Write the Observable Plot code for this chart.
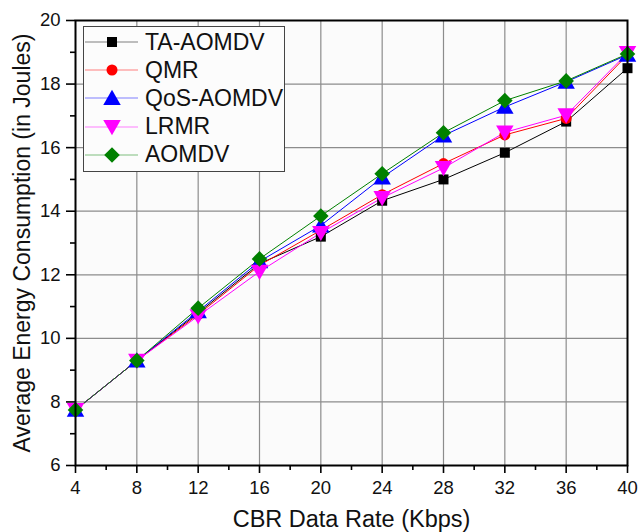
<!DOCTYPE html>
<html><head><meta charset="utf-8">
<script src="https://cdn.jsdelivr.net/npm/d3@7"></script>
<script src="https://cdn.jsdelivr.net/npm/@observablehq/plot@0.6"></script>
<style>
body{margin:0;background:#fff;font-family:"Liberation Sans",Arial,sans-serif;}
#wrap{position:relative;width:638px;height:532px;overflow:hidden;}
#legend{position:absolute;left:83px;top:26px;width:202px;height:146px;border:1px solid #444;background:#fcfcfc;box-sizing:border-box;padding-top:1px;}
.li{display:flex;align-items:center;height:28.2px;font-size:23px;color:#111;line-height:1;}
.li svg{margin-left:1px;margin-right:7px;flex:none}
</style></head><body>
<div id="wrap"><div id="chart"></div><div id="legend"></div></div>
<script>
const rates = [4, 8, 12, 16, 20, 24, 28, 32, 36, 40];
const seriesNames = ["TA-AOMDV", "QMR", "QoS-AOMDV", "LRMR", "AOMDV"];
const taAomdv = [7.75, 9.3, 10.8, 12.35, 13.2, 14.33, 15.0, 15.84, 16.82, 18.5];
const qmr     = [7.75, 9.3, 10.75, 12.3, 13.4, 14.52, 15.5, 16.4, 16.92, 18.92];
const qosAomdv= [7.75, 9.3, 10.85, 12.42, 13.55, 15.06, 16.38, 17.28, 18.07, 18.92];
const lrmr    = [7.75, 9.3, 10.7, 12.1, 13.32, 14.42, 15.36, 16.48, 17.02, 18.98];
const aomdv   = [7.75, 9.3, 10.95, 12.5, 13.85, 15.18, 16.47, 17.48, 18.1, 18.95];
const colors = ["#000000", "#ff0000", "#0000ff", "#ff00ff", "#008000"];
const xTicks = [4, 8, 12, 16, 20, 24, 28, 32, 36, 40];
const yTicks = [6, 8, 10, 12, 14, 16, 18, 20];
const xLabel = "CBR Data Rate (Kbps)";
const yLabel = "Average Energy Consumption (in Joules)";

const triDown = {draw(ctx, size){const r=Math.sqrt(size/ (Math.sqrt(3)*0.75));
  ctx.moveTo(0, r*0.9); ctx.lineTo(-r*0.95, -r*0.75); ctx.lineTo(r*0.95, -r*0.75); ctx.closePath();}};
const triUp = {draw(ctx, size){const r=Math.sqrt(size/ (Math.sqrt(3)*0.75));
  ctx.moveTo(0, -r*0.9); ctx.lineTo(-r*0.95, r*0.75); ctx.lineTo(r*0.95, r*0.75); ctx.closePath();}};
const diamond = {draw(ctx, size){const r=Math.sqrt(size/2)*1.05;
  ctx.moveTo(0,-r); ctx.lineTo(r,0); ctx.lineTo(0,r); ctx.lineTo(-r,0); ctx.closePath();}};
const square = {draw(ctx,size){const s=Math.sqrt(size)*0.5; ctx.rect(-s,-s,2*s,2*s);}};
const circle = {draw(ctx,size){const r=Math.sqrt(size/Math.PI); ctx.moveTo(r,0); ctx.arc(0,0,r,0,2*Math.PI);}};
const symbols = [square, circle, triUp, triDown, diamond];
const sizes = [100, 95, 110, 110, 110];

const allVals = [taAomdv, qmr, qosAomdv, lrmr, aomdv];
const data = [];
seriesNames.forEach((s, i) => rates.forEach((r, j) => data.push({series: s, idx: i, x: r, y: allVals[i][j]})));

const minorX = d3.range(6, 40, 4);
const minorY = d3.range(7, 20, 2);

const marks = [
  Plot.frame({fill: "#fbfbfb"}),
  Plot.ruleX(xTicks.slice(1, -1), {stroke: "#8c8c8c", strokeWidth: 1.2}),
  Plot.ruleY(yTicks.slice(1, -1), {stroke: "#8c8c8c", strokeWidth: 1.2}),
  Plot.axisX(xTicks, {tickSize: 8, tickPadding: 7, fontSize: 18.5, stroke: "#000", strokeWidth: 1.6, fill: "#111", label: null}),
  Plot.axisX(minorX, {tickSize: 5, tickFormat: () => "", stroke: "#000", strokeWidth: 1.6, label: null}),
  Plot.axisY(yTicks, {tickSize: 9, tickPadding: 6, fontSize: 18.5, stroke: "#000", strokeWidth: 1.6, fill: "#111", label: null}),
  Plot.axisY(minorY, {tickSize: 5, tickFormat: () => "", stroke: "#000", strokeWidth: 1.6, label: null}),
];
seriesNames.forEach((s, i) => {
  const d = data.filter(e => e.idx === i);
  marks.push(Plot.line(d, {x: "x", y: "y", stroke: colors[i], strokeWidth: 1}));
});
seriesNames.forEach((s, i) => {
  const d = data.filter(e => e.idx === i);
  marks.push(Plot.dot(d, {x: "x", y: "y", fill: colors[i], stroke: "none", symbol: symbols[i], r: Math.sqrt(sizes[i]/Math.PI)}));
});
marks.push(Plot.frame({stroke: "#000", strokeWidth: 2}));
marks.push(Plot.text([yLabel], {frameAnchor: "left", textAnchor: "middle", lineAnchor: "middle", dx: -53, rotate: -90, fontSize: 23, fill: "#111", text: d => d}));
marks.push(Plot.text([xLabel], {frameAnchor: "bottom", textAnchor: "middle", lineAnchor: "top", dy: 45, fontSize: 23.5, fill: "#111", text: d => d}));

const chart = Plot.plot({
  width: 638, height: 532,
  marginLeft: 75, marginRight: 11, marginTop: 20, marginBottom: 67,
  x: {domain: [4, 40]},
  y: {domain: [6, 20]},
  style: {fontFamily: "'Liberation Sans', Arial, sans-serif", fontSize: "18.5px", background: "#fff", overflow: "visible"},
  marks
});
document.getElementById("chart").appendChild(chart);

const leg = document.getElementById("legend");
seriesNames.forEach((s, i) => {
  const row = document.createElement("div"); row.className = "li";
  const svg = d3.create("svg").attr("width", 53).attr("height", 20);
  svg.append("line").attr("x1", 0).attr("x2", 53).attr("y1", 10).attr("y2", 10).attr("stroke", colors[i]).attr("stroke-opacity", 0.5).attr("stroke-width", 1.2);
  svg.append("path").attr("transform", "translate(27,10)").attr("d", d3.symbol(symbols[i], sizes[i])()).attr("fill", colors[i]);
  row.appendChild(svg.node());
  const t = document.createElement("span"); t.textContent = s; row.appendChild(t);
  leg.appendChild(row);
});
</script></body></html>
